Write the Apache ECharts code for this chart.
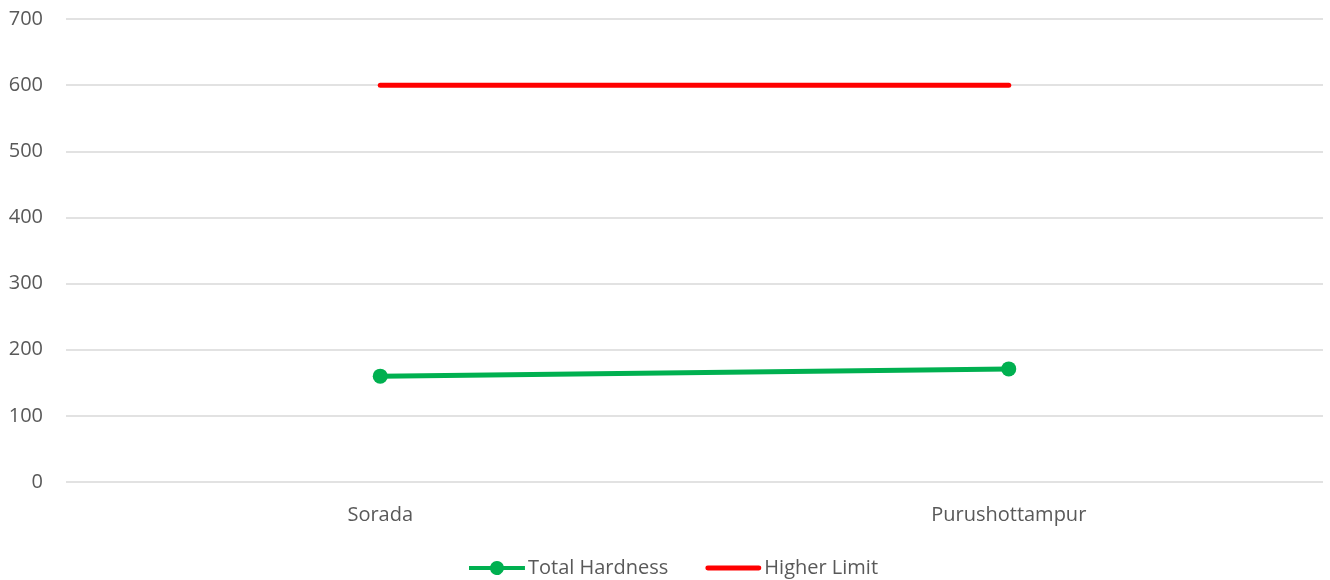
<!DOCTYPE html>
<html><head><meta charset="utf-8">
<script src="https://cdn.jsdelivr.net/npm/echarts@6/dist/echarts.min.js"></script>
<style>html,body{margin:0;padding:0;background:#fff}#c{width:1330px;height:580px}</style>
</head><body><div id="c"></div>
<script>
const categories = ['Sorada', 'Purushottampur'];
const totalHardness = [160, 171];
const higherLimit = [600, 600];
const yTicks = [0, 100, 200, 300, 400, 500, 600, 700];

const font = '"Open Sans", "Noto Sans", sans-serif';
const greenIcon = 'path://M0,5 L21.29,5 A7,7 0 0,1 34.71,5 L56,5 L56,9 L34.71,9 A7,7 0 0,1 21.29,9 L0,9 Z';
const redIcon = 'path://M0,0 L0.001,0 Z M2,4.5 L54,4.5 A2.5,2.5 0 0,1 54,9.5 L2,9.5 A2.5,2.5 0 0,1 2,4.5 Z M0,14 L0.001,14 Z';
const chart = echarts.init(document.getElementById('c'), null, {renderer: 'canvas'});
chart.setOption({
  animation: false,
  grid: {left: 66, right: 7, top: 19, bottom: 98, containLabel: false},
  legend: {
    top: 553, left: 464, itemGap: 37, itemWidth: 56, itemHeight: 14,
    textStyle: {fontFamily: font, fontSize: 20, color: '#595959', padding: [0, 0, 0, -2]},
    data: [
      {name: 'Total Hardness', icon: greenIcon, itemStyle: {color: '#00b050'}},
      {name: 'Higher Limit', icon: redIcon, itemStyle: {color: '#ff0000'}}
    ]
  },
  xAxis: {
    type: 'category', data: categories, boundaryGap: true,
    axisLine: {show: false}, axisTick: {show: false},
    axisLabel: {fontFamily: font, fontSize: 20, color: '#595959', margin: 23}
  },
  yAxis: {
    type: 'value', min: yTicks[0], max: yTicks[yTicks.length - 1], interval: 100,
    axisLine: {show: false}, axisTick: {show: false},
    axisLabel: {fontFamily: font, fontSize: 20, color: '#595959', margin: 23},
    splitLine: {lineStyle: {color: '#d9d9d9', width: 1.5}}
  },
  series: [
    {name: 'Total Hardness', type: 'line', data: totalHardness,
     symbol: 'circle', symbolSize: 15,
     lineStyle: {color: '#00b050', width: 5}, itemStyle: {color: '#00b050'}},
    {name: 'Higher Limit', type: 'line', data: higherLimit,
     symbol: 'none', showSymbol: false,
     lineStyle: {color: '#ff0000', width: 5, cap: 'round'}, itemStyle: {color: '#ff0000'}}
  ]
});
</script></body></html>
